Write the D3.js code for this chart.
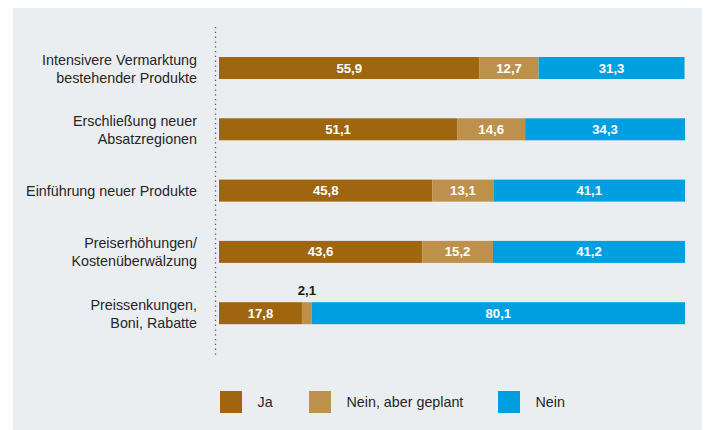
<!DOCTYPE html>
<html lang="de">
<head>
<meta charset="utf-8">
<title>Maßnahmen</title>
<script src="https://d3js.org/d3.v7.js"></script>
<style>
  body { margin: 0; background: #fff; }
  text { font-family: "Liberation Sans", Arial, Helvetica, sans-serif; }
</style>
</head>
<body>
<div id="my_dataviz"></div>
<script>

// data
const categories = [
  ["Intensivere Vermarktung", "bestehender Produkte"],
  ["Erschließung neuer", "Absatzregionen"],
  ["Einführung neuer Produkte"],
  ["Preiserhöhungen/", "Kostenüberwälzung"],
  ["Preissenkungen,", "Boni, Rabatte"]
];
const seriesNames = ["Ja", "Nein, aber geplant", "Nein"];
const ja      = [55.9, 51.1, 45.8, 43.6, 17.8];
const geplant = [12.7, 14.6, 13.1, 15.2, 2.1];
const nein    = [31.3, 34.3, 41.1, 41.2, 80.1];
const colors  = ["#a0660f", "#bd914b", "#009fe0"];

const W = 705, H = 430;

const svg = d3.select("#my_dataviz")
  .append("svg")
    .attr("width", W)
    .attr("height", H);

// grey panel
svg.append("rect")
  .attr("x", 13).attr("y", 8)
  .attr("width", 689).attr("height", 422)
  .attr("fill", "#ebeef1");

const x = d3.scaleLinear()
  .domain([0, 100])
  .range([219, 685]);

const y = d3.scaleBand()
  .domain(d3.range(categories.length))
  .range([57, 324.2])
  .paddingInner(0.641)
  .paddingOuter(0);

// dotted axis line
svg.append("line")
  .attr("x1", 215.5).attr("x2", 215.5)
  .attr("y1", 27).attr("y2", 355)
  .attr("stroke", "#55585c")
  .attr("stroke-width", 1.3)
  .attr("stroke-dasharray", "1.3,3.5");

// stack the rows
const rows = categories.map((c, i) => ({ i: i, vals: [ja[i], geplant[i], nein[i]] }));
const segs = [];
rows.forEach(r => {
  let acc = 0;
  r.vals.forEach((v, k) => {
    segs.push({ row: r.i, k: k, x0: acc, x1: acc + v, v: v });
    acc += v;
  });
});

const bh = y.bandwidth();

svg.append("g")
  .selectAll("rect")
  .data(segs)
  .enter()
  .append("rect")
    .attr("x", d => x(d.x0))
    .attr("y", d => y(d.row))
    .attr("width", d => x(d.x1) - x(d.x0))
    .attr("height", bh)
    .attr("fill", d => colors[d.k]);

// value labels
const fmt = v => v.toFixed(1).replace(".", ",");
const small = d => (x(d.x1) - x(d.x0)) < 30;
svg.append("g")
  .selectAll("text")
  .data(segs)
  .enter()
  .append("text")
    .attr("x", d => (x(d.x0) + x(d.x1)) / 2)
    .attr("y", d => small(d) ? y(d.row) - 7 : y(d.row) + bh / 2 + 4.5)
    .attr("text-anchor", "middle")
    .attr("font-size", small(segs[0]) ? 13 : 13.2)
    .attr("font-weight", "bold")
    .attr("fill", d => small(d) ? "#1a1a1a" : "#fff")
    .text(d => fmt(d.v));

// category labels
const lab = svg.append("g")
  .selectAll("text")
  .data(categories)
  .enter()
  .append("text")
    .attr("text-anchor", "end")
    .attr("font-size", 14.3)
    .attr("fill", "#262626")
    .attr("y", (d, i) => y(i) + bh / 2 + (d.length > 1 ? -3.5 : 5));

lab.selectAll("tspan")
  .data(d => d)
  .enter()
  .append("tspan")
    .attr("x", 197)
    .attr("dy", (d, j) => j === 0 ? 0 : 18)
    .text(d => d);

// legend
const legX = [220, 309, 498];
const leg = svg.append("g")
  .selectAll("g")
  .data(seriesNames)
  .enter()
  .append("g")
    .attr("transform", (d, i) => `translate(${legX[i]}, 391)`);

leg.append("rect")
  .attr("width", 22).attr("height", 22)
  .attr("fill", (d, i) => colors[i]);

leg.append("text")
  .attr("x", 37.5)
  .attr("y", 16)
  .attr("font-size", 14.3)
  .attr("fill", "#262626")
  .text(d => d);

</script>
</body>
</html>
